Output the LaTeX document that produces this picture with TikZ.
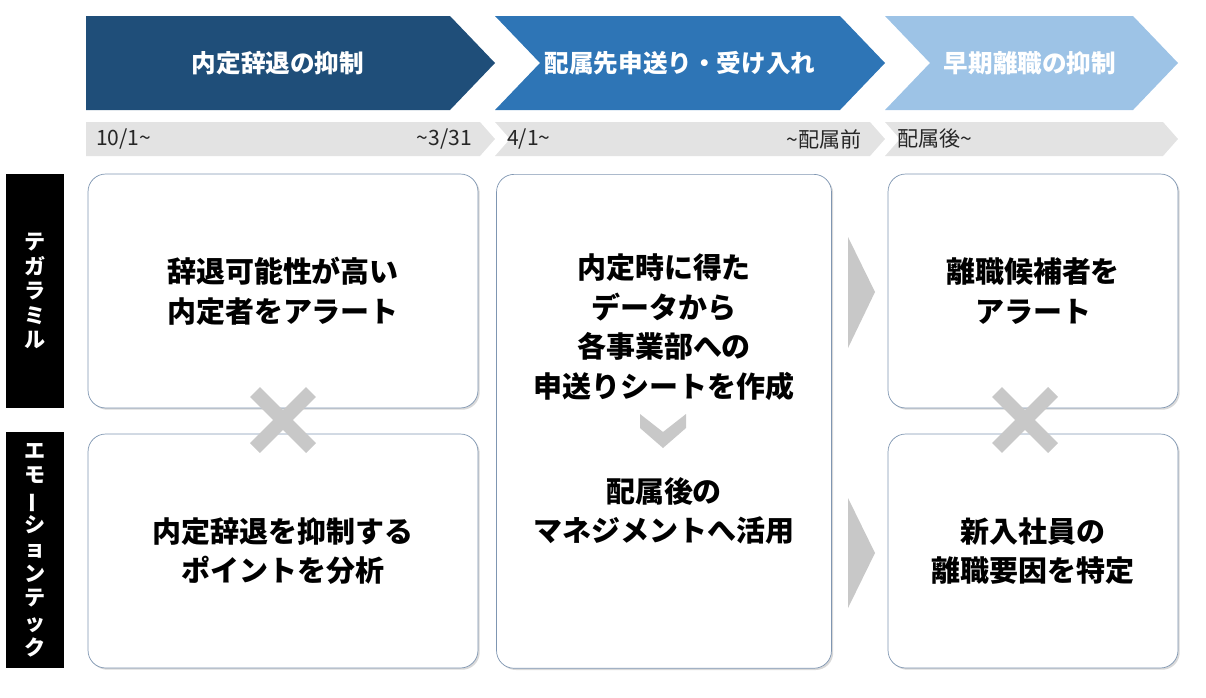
\documentclass[tikz,border=0pt]{standalone}
\usepackage{fontspec}
\setmainfont{Noto Sans CJK JP}
\usetikzlibrary{calc, positioning, shadows}
\definecolor{navy}{HTML}{1F4E79}
\definecolor{midblue}{HTML}{2E75B6}
\definecolor{lightblue}{HTML}{9DC3E6}
\definecolor{bargray}{HTML}{E3E3E3}
\definecolor{markgray}{HTML}{C8C8C8}
\definecolor{boxline}{HTML}{7F96B2}
\tikzset{
    phase/.style={font=\bfseries\fontsize{14}{16}\selectfont, text=white},
    period/.style={font=\fontsize{12}{14}\selectfont, text=black!85},
    card/.style={rectangle, draw=boxline, thin, fill=white, rounded corners=10pt, align=center, drop shadow={shadow xshift=1pt, shadow yshift=-1pt, opacity=0.3}, font=\bfseries\fontsize{16.5}{22.5}\selectfont},
    tag/.style={rectangle, fill=black, text=white, align=center, font=\bfseries\fontsize{12}{14}\selectfont, minimum width=1.16cm},
    cross/.style={draw=markgray, line width=8pt},
    pointer/.style={fill=markgray, draw=none}
}
\newcommand{\vbar}{\rotatebox[origin=c]{90}{ー}}
\begin{document}
\begin{tikzpicture}[x=0.02cm, y=-0.02cm]
    \useasboundingbox (0,0) rectangle (1206,697);
    % phase chevrons
    \fill[navy] (86,16) -- (450,16) -- (495,63) -- (450,110) -- (86,110) -- cycle;
    \fill[midblue] (495,16) -- (840,16) -- (885,63) -- (840,110) -- (495,110) -- (540,63) -- cycle;
    \fill[lightblue] (885,16) -- (1133,16) -- (1178,63) -- (1133,110) -- (885,110) -- (930,63) -- cycle;
    \node[phase] (ph1) at (278,63) {内定辞退の抑制};
    \node[phase] (ph2) at (680,63) {配属先申送り・受け入れ};
    \node[phase] (ph3) at (1030,63) {早期離職の抑制};
    % period bars
    \fill[bargray] (86,122) -- (480,122) -- (495,139) -- (480,156) -- (86,156) -- cycle;
    \fill[bargray] (495,122) -- (870,122) -- (885,139) -- (870,156) -- (495,156) -- (510,139) -- cycle;
    \fill[bargray] (885,122) -- (1163,122) -- (1178,139) -- (1163,156) -- (885,156) -- (900,139) -- cycle;
    \node[period, anchor=west] (d1) at (90,139) {10/1\textasciitilde};
    \node[period, anchor=east] (d2) at (478,139) {\textasciitilde 3/31};
    \node[period, anchor=west] (d3) at (501,139) {4/1\textasciitilde};
    \node[period, anchor=east] (d4) at (868,139) {\textasciitilde 配属前};
    \node[period, anchor=west] (d5) at (891,139) {配属後\textasciitilde};
    % side tags
    \node[tag, minimum height=4.68cm] (t1) at (35,291) {テ\\ガ\\ラ\\ミ\\ル};
    \node[tag, minimum height=4.72cm] (t2) at (35,550) {エ\\モ\\\vbar\\シ\\ョ\\ン\\テ\\ッ\\ク};
    % cards
    \node[card, minimum width=7.8cm, minimum height=4.68cm] (a1) at (283,291) {辞退可能性が高い\\内定者をアラート};
    \node[card, minimum width=7.8cm, minimum height=4.68cm] (a2) at (283,551) {内定辞退を抑制する\\ポイントを分析};
    \node[card, minimum width=6.7cm, minimum height=9.88cm, anchor=north] (b1) at (664,174) {};
    \node[card, minimum width=5.8cm, minimum height=4.68cm] (c1) at (1033,291) {離職候補者を\\アラート};
    \node[card, minimum width=5.8cm, minimum height=4.68cm] (c2) at (1033,551) {新入社員の\\離職要因を特定};
    \node[font=\bfseries\fontsize{16.5}{22.5}\selectfont, align=center] (b2) at (664,327) {内定時に得た\\データから\\各事業部への\\申送りシートを作成};
    \node[font=\bfseries\fontsize{16.5}{22.5}\selectfont, align=center] (b3) at (664,511) {配属後の\\マネジメントへ活用};
    % marks
    \draw[cross] (255,392) -- (311,448) (311,392) -- (255,448);
    \draw[cross] (997,392) -- (1053,448) (1053,392) -- (997,448);
    \fill[markgray] (640,414) -- (663,432) -- (686,414) -- (686,428) -- (663,448) -- (640,428) -- cycle;
    \fill[pointer] (848,237) -- (875,292) -- (848,348) -- cycle;
    \fill[pointer] (848,498) -- (875,553) -- (848,608) -- cycle;
\end{tikzpicture}
\end{document}
